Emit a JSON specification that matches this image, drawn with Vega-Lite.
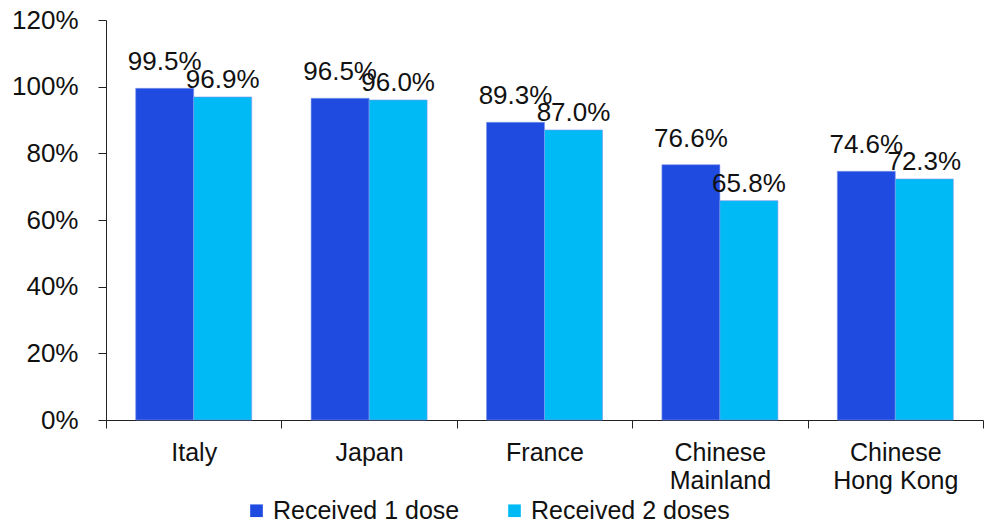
{
  "$schema": "https://vega.github.io/schema/vega-lite/v6.json",
  "width": 877,
  "height": 400,
  "autosize": "none",
  "padding": {"left": 106, "top": 20, "right": 4, "bottom": 104},
  "config": {
    "view": {"stroke": null},
    "font": "Liberation Sans",
    "axis": {"labelFont": "Liberation Sans", "labelColor": "#111", "domainColor": "#222", "tickColor": "#222", "grid": false, "title": null}
  },
  "data": {
    "values": [
      {"country": "Italy", "series": "Received 1 dose", "rate": 0.995},
      {"country": "Italy", "series": "Received 2 doses", "rate": 0.969},
      {"country": "Japan", "series": "Received 1 dose", "rate": 0.965},
      {"country": "Japan", "series": "Received 2 doses", "rate": 0.960},
      {"country": "France", "series": "Received 1 dose", "rate": 0.893},
      {"country": "France", "series": "Received 2 doses", "rate": 0.870},
      {"country": "Chinese Mainland", "series": "Received 1 dose", "rate": 0.766},
      {"country": "Chinese Mainland", "series": "Received 2 doses", "rate": 0.658},
      {"country": "Chinese Hong Kong", "series": "Received 1 dose", "rate": 0.746},
      {"country": "Chinese Hong Kong", "series": "Received 2 doses", "rate": 0.723}
    ]
  },
  "encoding": {
    "x": {
      "field": "country",
      "type": "nominal",
      "sort": null,
      "scale": {"paddingInner": 0, "paddingOuter": 0},
      "axis": {
        "labelAngle": 0,
        "labelFontSize": 25,
        "labelLineHeight": 28,
        "labelPadding": 12,
        "labelBaseline": "top",
        "tickBand": "extent",
        "tickSize": 8,
        "labelExpr": "indexof(datum.label, 'Chinese ') == 0 ? ['Chinese', substring(datum.label, 8)] : datum.label"
      }
    },
    "xOffset": {
      "field": "series",
      "type": "nominal",
      "scale": {"paddingInner": 0, "paddingOuter": 0.512}
    },
    "y": {
      "field": "rate",
      "type": "quantitative",
      "scale": {"domain": [0, 1.2], "nice": false},
      "axis": {
        "values": [0, 0.2, 0.4, 0.6, 0.8, 1.0, 1.2],
        "format": ".0%",
        "labelFontSize": 26,
        "labelPadding": 20,
        "tickSize": 8
      }
    }
  },
  "layer": [
    {
      "mark": {"type": "bar", "stroke": "#7f95ee", "strokeWidth": 0.6},
      "encoding": {
        "color": {
          "field": "series",
          "type": "nominal",
          "scale": {"domain": ["Received 1 dose", "Received 2 doses"], "range": ["#1F4BE0", "#00BAF5"]},
          "legend": {
            "title": null,
            "orient": "none",
            "direction": "horizontal",
            "legendX": 138,
            "legendY": 478,
            "symbolType": "square",
            "symbolSize": 160,
            "symbolStrokeWidth": 0,
            "labelFontSize": 25,
            "labelLimit": 0,
            "labelColor": "#111",
            "labelFont": "Liberation Sans",
            "columnPadding": 42,
            "labelOffset": 4
          }
        }
      }
    },
    {
      "transform": [{"filter": "datum.series == 'Received 1 dose'"}],
      "mark": {"type": "text", "baseline": "alphabetic", "dy": -18, "fontSize": 26, "color": "#111"},
      "encoding": {"text": {"field": "rate", "type": "quantitative", "format": ".1%"}}
    },
    {
      "transform": [{"filter": "datum.series == 'Received 2 doses'"}],
      "mark": {"type": "text", "baseline": "alphabetic", "dy": -9, "fontSize": 26, "color": "#111"},
      "encoding": {"text": {"field": "rate", "type": "quantitative", "format": ".1%"}}
    }
  ]
}
